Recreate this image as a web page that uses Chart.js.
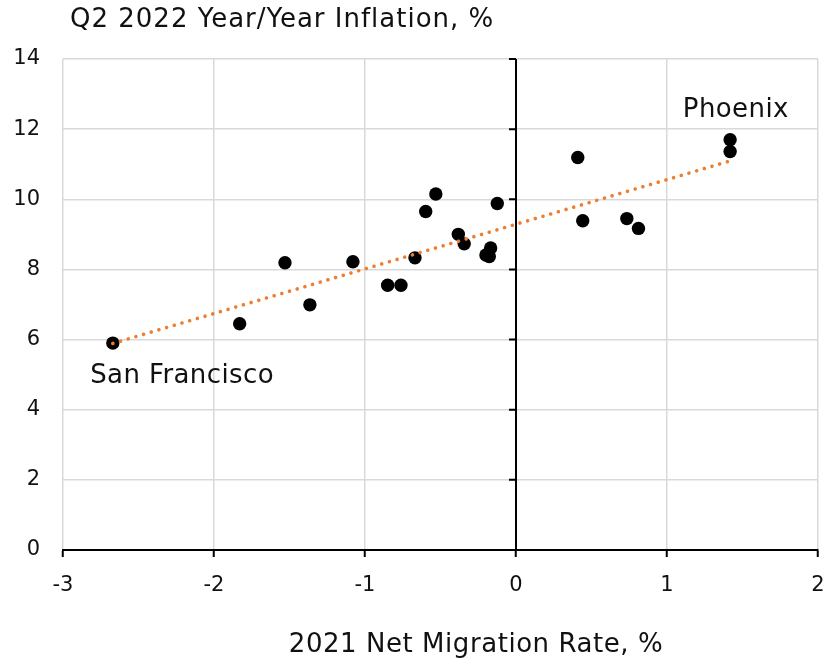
<!DOCTYPE html>
<html>
<head>
<meta charset="utf-8">
<script src="https://cdn.jsdelivr.net/npm/chart.js@4.4.1/dist/chart.umd.min.js"></script>
<style>
  body { margin: 0; background: #fff; }
  #wrap { width: 826px; height: 659px; }
</style>
</head>
<body>
<div id="wrap"><canvas id="chart" width="826" height="659"></canvas></div>
<script>
// 2021 net migration rate (%) vs Q2 2022 y/y inflation (%) by metro
const migration = [-2.67, -1.83, -1.53, -1.365, -1.08, -0.85, -0.762, -0.669, -0.598, -0.531, -0.382,
                   -0.343, -0.199, -0.177, -0.168, -0.124, 0.409, 0.442, 0.734, 0.811, 1.418, 1.418];
const inflation = [5.90, 6.45, 8.19, 6.99, 8.22, 7.55, 7.55, 8.33, 9.65, 10.15, 9.00,
                   8.73, 8.41, 8.37, 8.61, 9.88, 11.19, 9.39, 9.45, 9.17, 11.70, 11.36];

// linear trend, end points
const trendX = [-2.67, 1.40];
const trendY = [5.89, 11.07];

const xTicks = [-3, -2, -1, 0, 1, 2];
const yTicks = [0, 2, 4, 6, 8, 10, 12, 14];

const yTitle = 'Q2 2022 Year/Year Inflation, %';
const xTitle = '2021 Net Migration Rate, %';
const cityNames = ['San Francisco', 'Phoenix'];

// where the city names sit, in data units (left edge, baseline)
const cityAt = [[-2.82, 4.76], [1.105, 12.35]];

const FONT = "'DejaVu Sans', Verdana, sans-serif";
const INK = '#111';

Chart.defaults.font.family = FONT;
Chart.defaults.color = INK;

const extras = {
    id: 'extras',
    beforeDatasetsDraw(chart) {
        const {ctx, chartArea, scales: {x, y}} = chart;
        const x0 = x.getPixelForValue(0);
        ctx.save();
        ctx.strokeStyle = '#000';
        ctx.lineWidth = 2;
        ctx.beginPath();
        ctx.moveTo(x0, chartArea.top);
        ctx.lineTo(x0, chartArea.bottom);
        yTicks.forEach(v => {
            const py = y.getPixelForValue(v);
            ctx.moveTo(x0 - 7, py);
            ctx.lineTo(x0, py);
        });
        ctx.stroke();
        ctx.restore();
    },
    afterDraw(chart) {
        const {ctx, chartArea, scales: {x, y}} = chart;
        ctx.save();
        ctx.fillStyle = INK;
        ctx.font = '26px ' + FONT;
        ctx.textBaseline = 'alphabetic';

        ctx.textAlign = 'left';
        ctx.letterSpacing = '1px';
        ctx.fillText(yTitle, chartArea.left + 7, 27);

        ctx.textAlign = 'center';
        ctx.letterSpacing = '0.55px';
        ctx.fillText(xTitle, chartArea.left + 413, 652);

        ctx.textAlign = 'left';
        ctx.letterSpacing = '0.4px';
        cityNames.forEach((name, i) => {
            ctx.fillText(name, x.getPixelForValue(cityAt[i][0]), y.getPixelForValue(cityAt[i][1]));
        });
        ctx.restore();
    }
};

new Chart(document.getElementById('chart'), {
    type: 'scatter',
    data: {
        datasets: [{
            type: 'line',
            label: 'Trend',
            data: trendX.map((v, i) => ({x: v, y: trendY[i]})),
            borderColor: '#ED7D31',
            borderWidth: 3.6,
            borderDash: [0.01, 8],
            borderCapStyle: 'round',
            pointRadius: 0,
            fill: false,
            order: 0
        }, {
            label: 'Metros',
            data: migration.map((v, i) => ({x: v, y: inflation[i]})),
            backgroundColor: '#000',
            borderWidth: 0,
            pointRadius: 6.7,
            pointHoverRadius: 6.7,
            order: 1
        }]
    },
    options: {
        responsive: false,
        animation: false,
        events: [],
        layout: {
            padding: {top: 59, right: 8, left: 0, bottom: 0}
        },
        plugins: {
            legend: {display: false},
            tooltip: {enabled: false},
            title: {display: false}
        },
        scales: {
            x: {
                type: 'linear',
                min: -3,
                max: 2,
                afterBuildTicks: s => { s.ticks = xTicks.map(v => ({value: v})); },
                afterFit: s => {
                    s.height = 109;
                    s.paddingLeft = 0;
                    s.paddingRight = 0;
                },
                grid: {
                    color: '#d9d9d9',
                    lineWidth: 1.5,
                    tickColor: '#000',
                    tickLength: 7,
                    tickWidth: 2
                },
                border: {display: true, color: '#000', width: 2},
                ticks: {
                    font: {size: 21},
                    padding: 16,
                    callback: v => String(v)
                }
            },
            y: {
                type: 'linear',
                min: 0,
                max: 14,
                afterBuildTicks: s => { s.ticks = yTicks.map(v => ({value: v})); },
                afterFit: s => {
                    s.width = 63;
                    s.paddingTop = 0;
                    s.paddingBottom = 0;
                },
                grid: {
                    color: '#d9d9d9',
                    lineWidth: 1.5,
                    drawTicks: false
                },
                border: {display: false},
                ticks: {
                    font: {size: 21},
                    padding: 23,
                    callback: v => String(v)
                }
            }
        }
    },
    plugins: [extras]
});
</script>
</body>
</html>
